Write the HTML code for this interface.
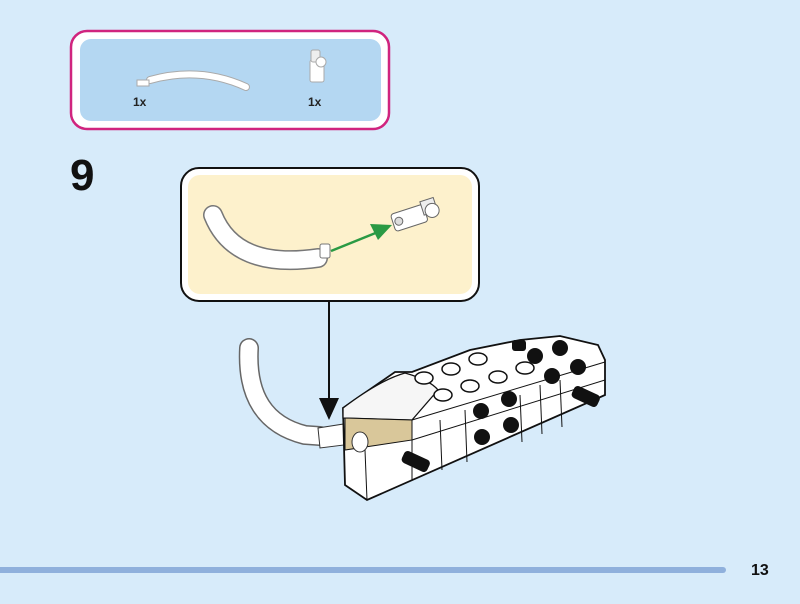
<!DOCTYPE html>
<html><head><style>
html,body{margin:0;padding:0}
body{width:800px;height:604px;background:#d7ebfa;overflow:hidden;position:relative;font-family:"Liberation Sans",sans-serif}
</style></head><body>
<svg width="800" height="604" viewBox="0 0 800 604" style="position:absolute;left:0;top:0">
<!-- parts box -->
<rect x="71" y="31" width="318" height="98" rx="16" fill="#fff" stroke="#d0247e" stroke-width="2.5"/>
<rect x="80" y="39" width="301" height="82" rx="11" fill="#b4d7f2"/>
<path d="M150 80 Q200 66 246 87" fill="none" stroke="#aaa" stroke-width="8" stroke-linecap="round"/>
<path d="M150 80 Q200 66 246 87" fill="none" stroke="#fff" stroke-width="6" stroke-linecap="round"/>
<rect x="137" y="80" width="12" height="6" fill="#fff" stroke="#aaa"/>
<text x="133" y="106" font-size="12" font-weight="bold" fill="#222">1x</text>
<rect x="310" y="60" width="14" height="22" rx="2" fill="#fff" stroke="#aaa"/>
<rect x="311" y="50" width="9" height="12" rx="2" fill="#eee" stroke="#aaa"/>
<circle cx="321" cy="62" r="5" fill="#fff" stroke="#aaa"/>
<text x="308" y="106" font-size="12" font-weight="bold" fill="#222">1x</text>
<!-- step number -->
<text x="70" y="190" font-size="44" font-weight="bold" fill="#111">9</text>
<!-- callout -->
<rect x="181" y="168" width="298" height="133" rx="18" fill="#fff" stroke="#111" stroke-width="2"/>
<rect x="188" y="175" width="284" height="119" rx="12" fill="#fdf1cc"/>
<path d="M213 215 Q235 270 318 258" fill="none" stroke="#777" stroke-width="20" stroke-linecap="round"/>
<path d="M213 215 Q235 270 318 258" fill="none" stroke="#fff" stroke-width="17" stroke-linecap="round"/>
<rect x="320" y="244" width="10" height="14" rx="2" fill="#fff" stroke="#777"/>
<line x1="331" y1="251" x2="378" y2="232" stroke="#2a9a44" stroke-width="2.5"/>
<polygon points="392,225 370,224 378,240" fill="#2a9a44"/>
<g transform="rotate(-18 415 216)">
<rect x="392" y="207" width="34" height="18" rx="3" fill="#fff" stroke="#666"/>
<rect x="424" y="204" width="14" height="14" fill="#eee" stroke="#666"/>
<circle cx="433" cy="216" r="7" fill="#fff" stroke="#666"/>
<circle cx="398" cy="216" r="4" fill="#ddd" stroke="#666"/>
</g>
<!-- connector arrow -->
<line x1="329" y1="302" x2="329" y2="402" stroke="#111" stroke-width="2"/>
<polygon points="319,398 339,398 329,420" fill="#111"/>
<!-- model tail -->
<path d="M249 348 Q245 420 305 435 L320 436" fill="none" stroke="#666" stroke-width="20" stroke-linecap="round"/>
<path d="M249 348 Q245 420 305 435 L320 436" fill="none" stroke="#fff" stroke-width="17" stroke-linecap="round"/>
<polygon points="318,428 350,423 352,444 320,448" fill="#fff" stroke="#333"/>
<!-- model body -->
<polygon points="343,408 395,372 412,372 470,350 520,340 560,336 598,345 605,360 605,395 367,500 345,485" fill="#fff" stroke="#111" stroke-width="1.8"/>
<!-- slope top face -->
<path d="M343,408 Q380,380 405,373 Q430,380 438,390 L412,420 L343,418 Z" fill="#f6f6f6" stroke="#111" stroke-width="1.3"/>
<!-- tan stripe -->
<polygon points="345,418 412,420 412,440 345,450" fill="#d9c79a" stroke="#111"/>
<line x1="412" y1="440" x2="605" y2="380" stroke="#111"/>
<line x1="412" y1="420" x2="605" y2="362" stroke="#111"/>
<line x1="365" y1="450" x2="367" y2="500" stroke="#111"/>
<line x1="440" y1="420" x2="442" y2="470" stroke="#111"/>
<line x1="465" y1="410" x2="467" y2="462" stroke="#111"/>
<line x1="520" y1="395" x2="522" y2="442" stroke="#111"/>
<line x1="540" y1="385" x2="542" y2="434" stroke="#111"/>
<line x1="560" y1="380" x2="562" y2="427" stroke="#111"/>
<line x1="412" y1="420" x2="412" y2="480" stroke="#111"/>
<g fill="#fff" stroke="#111" stroke-width="1.5">
<ellipse cx="424" cy="378" rx="9" ry="6"/><ellipse cx="451" cy="369" rx="9" ry="6"/><ellipse cx="478" cy="359" rx="9" ry="6"/>
<ellipse cx="443" cy="395" rx="9" ry="6"/><ellipse cx="470" cy="386" rx="9" ry="6"/><ellipse cx="498" cy="377" rx="9" ry="6"/><ellipse cx="525" cy="368" rx="9" ry="6"/>
</g>
<g fill="#111">
<circle cx="535" cy="356" r="8"/><circle cx="560" cy="348" r="8"/><circle cx="552" cy="376" r="8"/><circle cx="578" cy="367" r="8"/>
<circle cx="481" cy="411" r="8"/><circle cx="509" cy="399" r="8"/><circle cx="482" cy="437" r="8"/><circle cx="511" cy="425" r="8"/>
<rect x="572" y="390" width="28" height="13" rx="4" transform="rotate(25 586 396)"/>
<rect x="402" y="455" width="28" height="13" rx="4" transform="rotate(25 416 461)"/>
<rect x="512" y="340" width="14" height="11" rx="3"/>
</g>
<ellipse cx="360" cy="442" rx="8" ry="10" fill="#fff" stroke="#333"/>
<!-- footer -->
<line x1="0" y1="570" x2="723" y2="570" stroke="#8fb0dc" stroke-width="6" stroke-linecap="round"/>
<text x="751" y="575" font-size="16" font-weight="bold" fill="#111">13</text>
</svg>
</body></html>
